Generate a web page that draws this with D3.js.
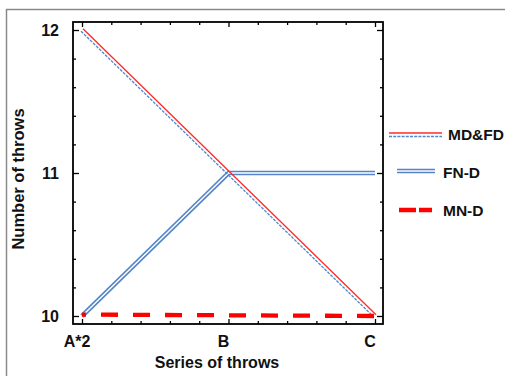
<!DOCTYPE html>
<html>
<head>
<meta charset="utf-8">
<script src="https://cdn.jsdelivr.net/npm/d3@7"></script>
<style>
  body { margin: 0; background: #fff; }
  text { font-family: "Liberation Sans", Arial, sans-serif; font-weight: bold; fill: #111; }
</style>
</head>
<body>
<svg id="chart" width="505" height="376"></svg>
<script>
// data
var categories = ["A*2", "B", "C"];
var mdfd = [12, 11, 10];
var fnd = [10, 11, 11];
var mnd = [10.01, 10.005, 10.0];
var yTicks = [10, 11, 12];
var seriesNames = ["MD&FD", "FN-D", "MN-D"];

var red = "#ff2a2a", blue = "#5385c8";

var svg = d3.select("#chart");

// outer gray frame (only top/left visible)
svg.append("path")
    .attr("d", "M6.5,376 V9.5 H505")
    .attr("fill", "none")
    .attr("stroke", "#8a8a8a")
    .attr("stroke-width", 1.5);

var box = { left: 73, right: 383, top: 22, bottom: 324 };

var x = d3.scalePoint().domain(categories).range([82, 375]);
var xl = d3.scaleLinear().domain([0, 2]).range([82, 375]); // for minor ticks
var y = d3.scaleLinear().domain([10, 12]).range([316, 30]);

var xMinor = d3.range(0, 2.01, 0.2).filter(function (v) { return Math.abs(v - Math.round(v)) > 1e-6; });
var yMinor = d3.range(10, 12.01, 0.2).filter(function (v) { return Math.abs(v - Math.round(v)) > 1e-6; });

function clean(g) {
    g.select(".domain").remove();
    g.selectAll("line").attr("stroke", "#000").attr("stroke-width", 1.3);
}

// ticks, pointing inward on all four sides
svg.append("g").attr("transform", "translate(0," + box.bottom + ")")
    .call(d3.axisBottom(x).tickSize(-5).tickFormat("")).call(clean);
svg.append("g").attr("transform", "translate(0," + box.bottom + ")")
    .call(d3.axisBottom(xl).tickValues(xMinor).tickSize(-3).tickFormat("")).call(clean);
svg.append("g").attr("transform", "translate(0," + box.top + ")")
    .call(d3.axisTop(x).tickSize(-5).tickFormat("")).call(clean);
svg.append("g").attr("transform", "translate(0," + box.top + ")")
    .call(d3.axisTop(xl).tickValues(xMinor).tickSize(-3).tickFormat("")).call(clean);
svg.append("g").attr("transform", "translate(" + box.left + ",0)")
    .call(d3.axisLeft(y).tickValues(yTicks).tickSize(-6).tickFormat("")).call(clean);
svg.append("g").attr("transform", "translate(" + box.left + ",0)")
    .call(d3.axisLeft(y).tickValues(yMinor).tickSize(-3).tickFormat("")).call(clean);
svg.append("g").attr("transform", "translate(" + box.right + ",0)")
    .call(d3.axisRight(y).tickValues(yTicks).tickSize(-6).tickFormat("")).call(clean);
svg.append("g").attr("transform", "translate(" + box.right + ",0)")
    .call(d3.axisRight(y).tickValues(yMinor).tickSize(-3).tickFormat("")).call(clean);

// plot box
svg.append("rect")
    .attr("x", box.left).attr("y", box.top)
    .attr("width", box.right - box.left).attr("height", box.bottom - box.top)
    .attr("fill", "none").attr("stroke", "#000").attr("stroke-width", 1.8);

// tick labels
svg.append("g").selectAll("text").data(categories).enter().append("text")
    .attr("x", function (d) { return x(d) - 5; })
    .attr("y", 347)
    .attr("text-anchor", "middle")
    .style("font-size", "16px")
    .text(function (d) { return d; });

svg.append("g").selectAll("text").data(yTicks).enter().append("text")
    .attr("x", 59)
    .attr("y", function (d) { return y(d) + 6; })
    .attr("text-anchor", "end")
    .style("font-size", "16px")
    .text(function (d) { return d; });

// axis titles
svg.append("text")
    .attr("x", 217).attr("y", 368)
    .attr("text-anchor", "middle")
    .style("font-size", "16px")
    .text("Series of throws");

svg.append("text")
    .attr("transform", "translate(24,179) rotate(-90)")
    .attr("text-anchor", "middle")
    .style("font-size", "16.5px")
    .text("Number of throws");

var line = d3.line()
    .x(function (d, i) { return x(categories[i]); })
    .y(function (d) { return y(d); });

// FN-D: double blue line
svg.append("path").datum(fnd).attr("d", line)
    .attr("fill", "none").attr("stroke", blue).attr("stroke-width", 4.6);
svg.append("path").datum(fnd).attr("d", line)
    .attr("fill", "none").attr("stroke", "#fff").attr("stroke-width", 1.4);

// MD&FD: red line with blue dotted companion
svg.append("path").datum(mdfd).attr("d", line)
    .attr("transform", "translate(-1,1.2)")
    .attr("fill", "none").attr("stroke", blue).attr("stroke-width", 1.3)
    .attr("stroke-dasharray", "3,1.2");
svg.append("path").datum(mdfd).attr("d", line)
    .attr("transform", "translate(1,-1.2)")
    .attr("fill", "none").attr("stroke", red).attr("stroke-width", 1.3);

// MN-D: thick red dashes
svg.append("path").datum(mnd).attr("d", line)
    .attr("fill", "none").attr("stroke", "#ff0000").attr("stroke-width", 4.3)
    .attr("stroke-dasharray", "17,15").attr("stroke-dashoffset", 13);

// legend
var lg = svg.append("g");
lg.append("line").attr("x1", 389).attr("x2", 442).attr("y1", 133).attr("y2", 133)
    .attr("stroke", red).attr("stroke-width", 1.3);
lg.append("line").attr("x1", 389).attr("x2", 442).attr("y1", 136.5).attr("y2", 136.5)
    .attr("stroke", blue).attr("stroke-width", 1.3).attr("stroke-dasharray", "3,1.2");
lg.append("line").attr("x1", 397).attr("x2", 435).attr("y1", 171).attr("y2", 171)
    .attr("stroke", blue).attr("stroke-width", 4.6);
lg.append("line").attr("x1", 397).attr("x2", 435).attr("y1", 171).attr("y2", 171)
    .attr("stroke", "#fff").attr("stroke-width", 1.4);
lg.append("line").attr("x1", 399).attr("x2", 432).attr("y1", 210).attr("y2", 210)
    .attr("stroke", "#ff0000").attr("stroke-width", 4.3).attr("stroke-dasharray", "17,3");

var legendY = [134, 172, 210];
lg.selectAll("text.lab").data(seriesNames).enter().append("text")
    .attr("class", "lab")
    .attr("x", function (d, i) { return i === 0 ? 448 : 443; })
    .attr("y", function (d, i) { return legendY[i] + 5.5; })
    .style("font-size", "15.5px")
    .text(function (d) { return d; });
</script>
</body>
</html>
